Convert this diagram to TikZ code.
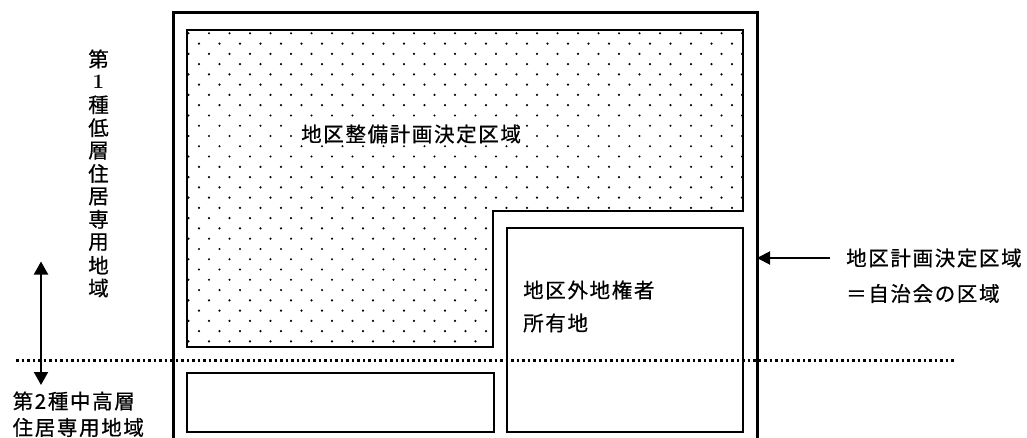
\documentclass[tikz,border=0pt]{standalone}
\usepackage{fontspec}
\newfontfamily\jpfont[LetterSpace=8,FakeBold=0.6]{Noto Sans CJK JP}
\usetikzlibrary{arrows.meta}
\tikzset{
  lbl/.style={font=\jpfont\fontsize{20.5}{22}\selectfont, inner sep=0pt, anchor=west},
  vch/.style={font=\jpfont\fontsize{20.5}{22}\selectfont, inner sep=0pt},
  border/.style={line width=3pt},
  plotbox/.style={draw, line width=2pt},
  dotline/.style={line width=2.8pt, dash pattern=on 2.8pt off 2.7pt},
  arr/.style={line width=2pt, -{Triangle[length=13pt,width=13pt]}},
  darr/.style={line width=2pt, {Triangle[length=13pt,width=14pt]}-{Triangle[length=13pt,width=14pt]}},
}
\begin{document}
\begin{tikzpicture}[x=1pt,y=-1pt]
\useasboundingbox (0,0) rectangle (1027,438);
% outer district boundary
\draw[border] (173.5,445) -- (173.5,13) -- (757,13) -- (757,445);
\coordinate (boxR) at (757,258);
% dotted (stippled) area
\begin{scope}
  \clip (186.7,30) -- (743,30) -- (743,211) -- (493,211) -- (493,347) -- (186.7,347) -- cycle;
  \foreach \k in {0,...,30}{
    \foreach \m in {0,...,27}{
      \fill ({188.5+10.5*mod(\k,2)+20.5*\m},{33.3+10.27*\k}) circle (1.2pt);
    }
  }
\end{scope}
\draw[line width=2pt] (186.7,30) -- (743,30) -- (743,211) -- (493,211) -- (493,347) -- (186.7,347) -- cycle;
% other plots
\draw[plotbox] (507,228) rectangle (743,432);
\draw[plotbox] (187,373) rectangle (494,432);
% zone boundary
\draw[dotline] (16,360.5) -- (954,360.5);
% labels
\node[lbl, fill=white, inner sep=1pt] (plan) at (300,134) {地区整備計画決定区域};
\node[lbl] (out1) at (523,290) {地区外地権者};
\node[lbl] (out2) at (523,323) {所有地};
\node[lbl] (r1) at (846,258) {地区計画決定区域};
\node[lbl] (r2) at (846,293.5) {＝自治会の区域};
\node[lbl] (z2a) at (12.5,401) {第2種中高層};
\node[lbl] (z2b) at (12.5,427.5) {住居専用地域};
\foreach \c [count=\i from 0] in {第,{\rmfamily\bfseries 1},種,低,層,住,居,専,用,地,域}{
  \node[vch] (v\i) at (98.5,{59+22.9*\i}) {\c};
}
% arrows
\draw[arr] ([xshift=-16pt]r1.west) -- (boxR);
\coordinate (upA) at (41,261.5);
\coordinate (dnA) at (41,385);
\draw[darr] (upA) -- (dnA);
\end{tikzpicture}
\end{document}
